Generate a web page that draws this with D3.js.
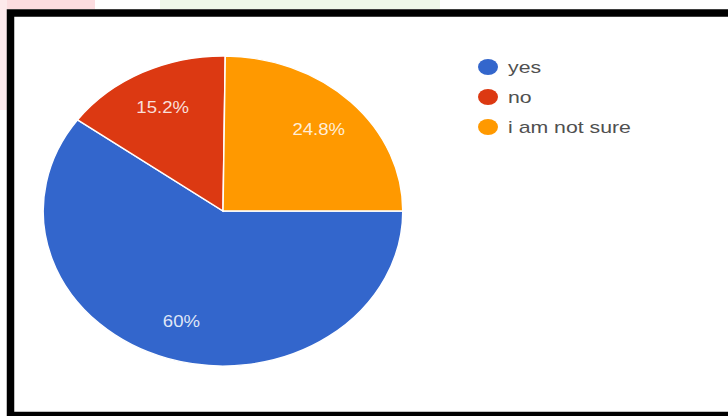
<!DOCTYPE html>
<html>
<head>
<meta charset="utf-8">
<script src="https://cdn.jsdelivr.net/npm/d3@7/dist/d3.min.js"></script>
<style>
  html, body { margin: 0; padding: 0; background: #fff; }
  svg { display: block; }
</style>
</head>
<body>
<svg id="chart" width="728" height="416"></svg>
<script>
// Survey answers and their shares (%)
const categories = ["yes", "no", "i am not sure"];
const shares = [60, 15.2, 24.8];
const labels = ["60%", "15.2%", "24.8%"];
const colors = ["#3366cc", "#dc3912", "#ff9900"];

const svg = d3.select("#chart");

// faint page residue above the framed chart
svg.append("rect").attr("x", 0).attr("y", 0).attr("width", 95).attr("height", 9)
  .attr("fill", "#fcdde0");
svg.append("rect").attr("x", 0).attr("y", 0).attr("width", 7).attr("height", 110)
  .attr("fill", "#fdeaec");
svg.append("rect").attr("x", 160).attr("y", 0).attr("width", 280).attr("height", 9)
  .attr("fill", "#eef7e9");

// black frame (right side runs off the page)
svg.append("rect")
  .attr("x", 10.5).attr("y", 13).attr("width", 800).attr("height", 402.5)
  .attr("fill", "#fff").attr("stroke", "#000").attr("stroke-width", 7.5);

// pie: circular arcs, stretched horizontally into an ellipse
const cx = 223, cy = 211, r = 155, sx = 1.16;
const g = svg.append("g").attr("transform", `translate(${cx},${cy}) scale(${sx},1)`);

const pie = d3.pie().sort(null).value(d => d)
  .startAngle(Math.PI / 2).endAngle(Math.PI / 2 + 2 * Math.PI);
const arcs = pie(shares);
const arc = d3.arc().innerRadius(0).outerRadius(r);
const labelArc = d3.arc().innerRadius(116).outerRadius(116);

g.selectAll("path.slice").data(arcs).join("path")
  .attr("class", "slice")
  .attr("d", arc)
  .attr("fill", (d, i) => colors[i])
  .attr("stroke", "#fff").attr("stroke-width", 1.3);

g.selectAll("text.pct").data(arcs).join("text")
  .attr("class", "pct")
  .attr("transform", d => `translate(${labelArc.centroid(d)})`)
  .attr("text-anchor", "middle").attr("dy", "0.35em")
  .attr("font-family", "Liberation Sans, Arial, sans-serif")
  .attr("font-size", 16)
  .attr("fill", "#fff").attr("fill-opacity", 0.85)
  .text((d, i) => labels[i]);

// legend
const legend = svg.append("g").attr("transform", "translate(488,67)");
const item = legend.selectAll("g").data(categories).join("g")
  .attr("transform", (d, i) => `translate(0,${i * 30})`);
item.append("ellipse").attr("rx", 10).attr("ry", 8).attr("fill", (d, i) => colors[i]);
item.append("text")
  .attr("transform", "translate(20,6) scale(1.33,1)")
  .attr("font-family", "Liberation Sans, Arial, sans-serif")
  .attr("font-size", 16)
  .attr("fill", "#505050")
  .text(d => d);
</script>
</body>
</html>
